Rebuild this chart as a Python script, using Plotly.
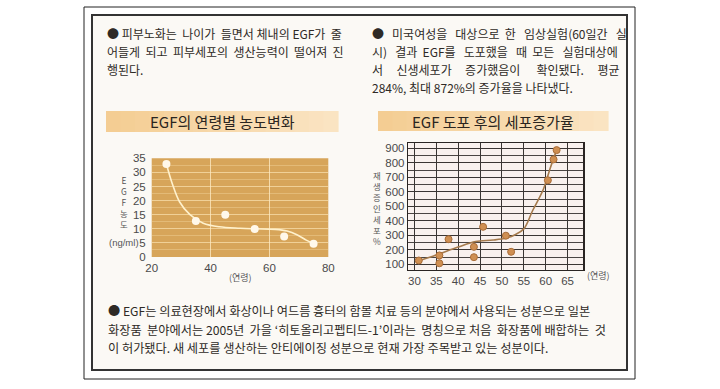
import plotly.graph_objects as go

W, H = 720, 389

# ---------------- data ----------------
# Chart 1: EGF concentration by age
age1 = [25, 35, 45, 55, 65, 75]
egf1 = [33, 12.8, 15, 9.9, 7.3, 4.7]
curve1_x = [25, 27, 29.5, 33, 37.5, 43, 50, 55, 62, 66, 69.5, 72.5, 75]
curve1_y = [33, 26, 19.5, 15, 12, 10.7, 10.2, 10, 9.8, 9.2, 7.8, 6, 4.7]
x1_ticks = [20, 40, 60, 80]
y1_ticks = [0, 5, 10, 15, 20, 25, 30, 35]

# Chart 2: cell increase rate after EGF application
age2 = [31, 35.7, 35.7, 37.8, 43.6, 43.6, 45.7, 50.9, 52.1, 60.5, 61.8, 62.5]
cell2 = [127, 162, 108, 274, 221, 150, 359, 298, 187, 680, 824, 888]
curve2_x = [31, 35, 40, 44, 48, 51, 53, 55, 57, 59.5, 61, 62.5]
curve2_y = [125, 165, 220, 258, 268, 282, 305, 345, 470, 620, 760, 888]
x2_ticks = [30, 35, 40, 45, 50, 55, 60, 65]
y2_ticks = [100, 200, 300, 400, 500, 600, 700, 800, 900]

title1 = "EGF의 연령별 농도변화"
title2 = "EGF 도포 후의 세포증가율"
ytitle1_chars = ["E", "G", "F", "농", "도"]
ytitle1_unit = "(ng/ml)"
ytitle2_chars = ["재", "생", "증", "인", "세", "포", "%"]
xtitle = "(연령)"

left_para = ["● 피부노화는 나이가 들면서 체내의 EGF가 줄",
             "어들게 되고 피부세포의 생산능력이 떨어져 진",
             "행된다."]
right_para = ["● 미국여성을 대상으로 한 임상실험(60일간 실",
              "시) 결과 EGF를 도포했을 때 모든 실험대상에",
              "서 신생세포가 증가했음이 확인됐다. 평균",
              "284%, 최대 872%의 증가율을 나타냈다."]
bottom_para = ["● EGF는 의료현장에서 화상이나 여드름 흉터의 함몰 치료 등의 분야에서 사용되는 성분으로 일본",
               "화장품 분야에서는 2005년 가을 ‘히토올리고펩티드-1’이라는 명칭으로 처음 화장품에 배합하는 것",
               "이 허가됐다. 새 세포를 생산하는 안티에이징 성분으로 현재 가장 주목받고 있는 성분이다."]

# extra (non-breaking) spaces per line to imitate the justified print layout
left_pad = [3, 5, 0]
right_pad = [9, 10, 17, 0]
bottom_pad = [0, 5, 0]

# ---------------- helpers ----------------
def px(x):
    return x / W

def py(y):
    return 1 - y / H

def justify(line, extra):
    words = line.split(" ")
    gaps = len(words) - 1
    if gaps <= 0 or extra <= 0:
        return line
    out = words[0]
    given = 0
    for i in range(1, len(words)):
        target = round(extra * i / gaps)
        n = target - given
        given = target
        out += " " + "\u00a0" * n + words[i]
    return out

def lerp_color(c0, c1, t):
    a = [int(c0[i:i + 2], 16) for i in (1, 3, 5)]
    b = [int(c1[i:i + 2], 16) for i in (1, 3, 5)]
    return "rgb(%d,%d,%d)" % tuple(round(a[k] + (b[k] - a[k]) * t) for k in range(3))

KR = "Noto Sans CJK KR, Noto Sans, sans-serif"
NUM = "Liberation Sans Narrow, Liberation Sans, Arial, sans-serif"
TXT = "#2e2a26"

fig = go.Figure()

fig.add_trace(go.Scatter(x=curve1_x, y=curve1_y, mode="lines",
                         line=dict(color="#fff1cc", width=1.6, shape="spline", smoothing=1.0),
                         xaxis="x", yaxis="y", hoverinfo="skip", showlegend=False))
fig.add_trace(go.Scatter(x=age1, y=egf1, mode="markers",
                         marker=dict(color="#fff8ea", size=8),
                         xaxis="x", yaxis="y", showlegend=False))
fig.add_trace(go.Scatter(x=curve2_x, y=curve2_y, mode="lines",
                         line=dict(color="#a57a4c", width=1.6, shape="spline", smoothing=1.0),
                         xaxis="x2", yaxis="y2", hoverinfo="skip", showlegend=False))
fig.add_trace(go.Scatter(x=age2, y=cell2, mode="markers",
                         marker=dict(color="#cf8f52", size=7, line=dict(color="#a86c38", width=1)),
                         xaxis="x2", yaxis="y2", showlegend=False))

shapes = []
shapes.append(dict(type="rect", xref="paper", yref="paper", x0=px(84), x1=px(635), y0=py(379), y1=py(7),
                   line=dict(color="#222", width=1), fillcolor="rgba(0,0,0,0)", layer="below"))
shapes.append(dict(type="rect", xref="paper", yref="paper", x0=px(92), x1=px(627), y0=py(370), y1=py(15),
                   line=dict(color="#333", width=2), fillcolor="#fbf9f5", layer="below"))
# title banners with a soft horizontal gradient
NSEG = 16
for (bx0, bx1, by0, by1) in [(106, 338, 111, 132), (378, 608, 111, 131)]:
    step = (bx1 - bx0) / NSEG
    for k in range(NSEG):
        shapes.append(dict(type="rect", xref="paper", yref="paper",
                           x0=px(bx0 + k * step), x1=px(bx0 + (k + 1) * step + 0.6),
                           y0=py(by1), y1=py(by0), line=dict(width=0),
                           fillcolor=lerp_color("#f4cd93", "#fae4c2", k / (NSEG - 1)), layer="below"))
shapes.append(dict(type="rect", xref="x domain", yref="y domain", x0=0, x1=1, y0=0, y1=1,
                   line=dict(width=0), fillcolor="#d7a55a", layer="below"))
shapes.append(dict(type="rect", xref="x2 domain", yref="y2 domain", x0=0, x1=1, y0=0, y1=1,
                   line=dict(width=0), fillcolor="#f9f1ee", layer="below"))

ann = []
def text(x, y, s, size=12, anchor="left", color=TXT, family=KR, yanchor="middle"):
    ann.append(dict(x=px(x), y=py(y), xref="paper", yref="paper", text=s, showarrow=False,
                    xanchor=anchor, yanchor=yanchor, font=dict(family=family, size=size, color=color)))

line_y = [33.5, 51.5, 69.5, 87.5]
for i, s in enumerate(left_para):
    text(105, line_y[i], justify(s, left_pad[i]), size=12)
for i, s in enumerate(right_para):
    text(370, line_y[i], justify(s, right_pad[i]), size=12)
for i, s in enumerate(bottom_para):
    text(106, [311, 329.5, 348][i], justify(s, bottom_pad[i]), size=12.2)

text(222, 121.5, title1, size=15, anchor="center", color="#2a2520")
text(493, 121, title2, size=15, anchor="center", color="#2a2520")

text(124, 172, "<br>".join(ytitle1_chars), size=8.4, anchor="center", color="#555", yanchor="top")
text(124, 242, ytitle1_unit, size=9.5, anchor="center", color="#555", family=NUM)
text(377, 167, "<br>".join(ytitle2_chars), size=8.4, anchor="center", color="#555", yanchor="top")
text(240, 277, xtitle, size=9, anchor="center", color="#555")
text(598, 275, xtitle, size=9, anchor="center", color="#555")

tickfont = dict(family=NUM, size=11.5, color="#4a4a4a")
common = dict(automargin=False, zeroline=False, ticks="", tickfont=tickfont)

fig.update_layout(
    width=W, height=H, margin=dict(l=0, r=0, t=0, b=0, pad=0, autoexpand=False),
    paper_bgcolor="white", plot_bgcolor="rgba(0,0,0,0)",
    shapes=shapes, annotations=ann, showlegend=False,
    xaxis=dict(domain=[px(151.7), px(328.3)], range=[20, 80], tickvals=x1_ticks,
               showgrid=True, gridcolor="rgba(255,238,200,0.75)", gridwidth=1,
               showline=False, anchor="y", ticklabelstandoff=2, **common),
    yaxis=dict(domain=[py(257), py(158.3)], range=[0, 35], tickvals=y1_ticks,
               showgrid=True, gridcolor="rgba(255,235,190,0.45)", gridwidth=1,
               minor=dict(dtick=2.5, tick0=0, showgrid=True, gridcolor="rgba(255,235,190,0.3)", gridwidth=1),
               showline=False, anchor="x", ticklabelstandoff=5, **common),
    xaxis2=dict(domain=[px(408.3), px(583.3)], range=[28.6, 68.6], tickvals=x2_ticks,
                showgrid=True, gridcolor="#3a3533", gridwidth=1,
                showline=True, mirror=True, linecolor="#2a2523", linewidth=1.5,
                anchor="y2", **common),
    yaxis2=dict(domain=[py(269.5), py(143.3)], range=[65, 935], tickvals=y2_ticks,
                showgrid=True, gridcolor="#3a3533", gridwidth=1,
                minor=dict(dtick=50, tick0=0, showgrid=True, gridcolor="#4a4543", gridwidth=1),
                showline=True, mirror=True, linecolor="#2a2523", linewidth=1.5,
                anchor="x2", **common),
)

fig.write_html("out.html", config={"displayModeBar": False, "staticPlot": True},
               post_script="document.body.style.margin='0';document.body.style.padding='0';")
